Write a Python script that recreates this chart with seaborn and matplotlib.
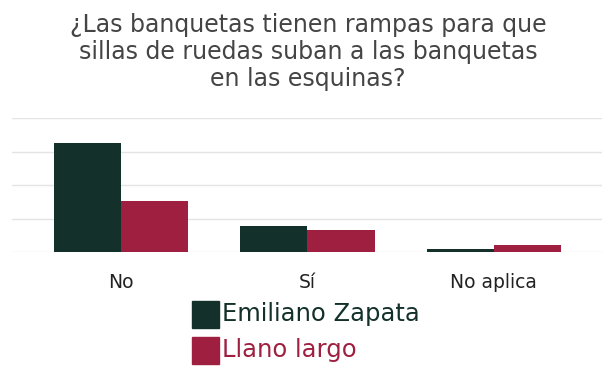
import pandas as pd
import seaborn as sns
import matplotlib.pyplot as plt
import matplotlib
matplotlib.use('Agg')

categorias = ['No', 'Sí', 'No aplica']
emiliano_zapata = [32.5, 7.8, 0.9]
llano_largo = [15.2, 6.6, 2.0]
series = ['Emiliano Zapata', 'Llano largo']
colores = ['#13302a', '#9e1f40']

data = pd.DataFrame({
    'respuesta': categorias * 2,
    'valor': emiliano_zapata + llano_largo,
    'localidad': [series[0]] * 3 + [series[1]] * 3,
})

sns.set_style('white')
plt.rcParams['font.family'] = ['DejaVu Sans']

fig = plt.figure(figsize=(6.02, 3.66), dpi=100)
ax = fig.add_axes([0.02, 0.3115, 0.98, 0.366])
sns.barplot(x='respuesta', y='valor', hue='localidad', data=data,
            palette=colores, width=0.72, ax=ax, saturation=1, legend=False,
            linewidth=0)

ax.set_ylim(0, 40)
ax.set_xlim(-0.584, 2.58)
ax.set_yticks([0, 10, 20, 30, 40])
ax.set_yticklabels([])
ax.yaxis.grid(True, color='#e4e4e4', linewidth=1)
ax.set_axisbelow(True)
ax.tick_params(axis='both', length=0)
ax.tick_params(axis='x', labelsize=13.5, colors='#222222', pad=15)
ax.set_xlabel('')
ax.set_ylabel('')
for s in ax.spines.values():
    s.set_visible(False)

fig.text(0.512, 0.858, '¿Las banquetas tienen rampas para que\nsillas de ruedas suban a las banquetas\nen las esquinas?',
         ha='center', va='center', fontsize=17, color='#444444', linespacing=1.18)

# leyenda con texto del color de cada serie
for i, (nombre, c) in enumerate(zip(series, colores)):
    y = 0.142 - i * 0.098
    fig.patches.append(matplotlib.patches.Rectangle((0.319, y - 0.0375), 0.045, 0.074,
                                                    transform=fig.transFigure, color=c))
    fig.text(0.368, y, nombre, ha='left', va='center', fontsize=17.5, color=c)

plt.savefig('out.png', dpi=100)
